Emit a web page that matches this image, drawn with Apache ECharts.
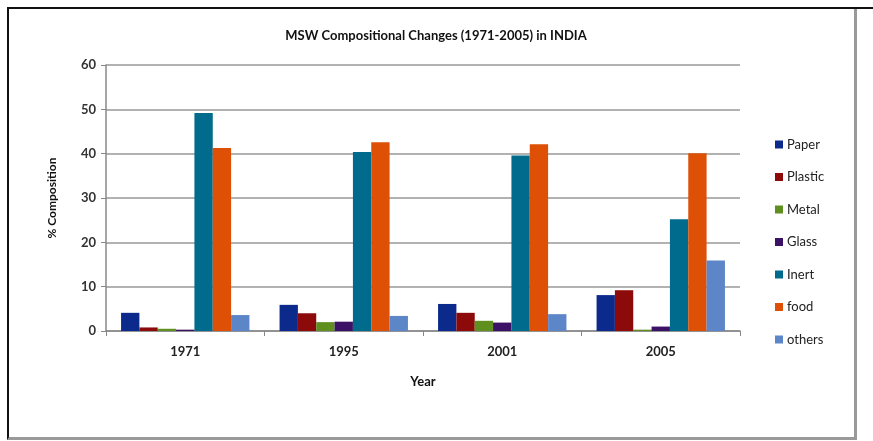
<!DOCTYPE html>
<html>
<head>
<meta charset="utf-8">
<script src="https://cdn.jsdelivr.net/npm/echarts@6/dist/echarts.min.js"></script>
<style>
  html, body { margin: 0; padding: 0; background: #fff; }
  #wrap { position: relative; width: 873px; height: 441px; }
  #chart { position: absolute; left: 0; top: 0; width: 873px; height: 441px; }
  .frame {
    position: absolute; left: 7px; top: 7px; width: 845px; height: 428px;
    border-left: 2px solid #111; border-top: 2px solid #111;
    border-right: 3px solid #999; border-bottom: 3px solid #999;
    pointer-events: none;
  }
  .topline { position: absolute; left: 852px; top: 7px; width: 21px; height: 2px; background: #111; }
</style>
</head>
<body>
<div id="wrap">
  <div id="chart"></div>
  <div class="frame"></div>
  <div class="topline"></div>
</div>
<script>
const years = ['1971', '1995', '2001', '2005']
const paper = [4.1, 5.9, 6.1, 8.1]
const plastic = [0.8, 4.0, 4.1, 9.2]
const metal = [0.5, 2.0, 2.3, 0.3]
const glass = [0.3, 2.1, 1.9, 1.0]
const inert = [49.2, 40.4, 39.6, 25.2]
const food = [41.3, 42.6, 42.1, 40.1]
const others = [3.6, 3.4, 3.8, 15.9]

const names = ['Paper', 'Plastic', 'Metal', 'Glass', 'Inert', 'food', 'others']
const values = [paper, plastic, metal, glass, inert, food, others]
const colors = ['#0b2a8c', '#8c0a0a', '#5e8f1f', '#3b1265', '#006b8c', '#dd5006', '#5d86c8']

const font = 'Lato, "Open Sans", sans-serif'
const chart = echarts.init(document.getElementById('chart'))

chart.setOption({
  animation: false,
  color: colors,
  textStyle: { fontFamily: font },
  title: {
    text: 'MSW Compositional Changes (1971-2005) in INDIA',
    left: 431,
    top: 24,
    textAlign: 'center',
    textStyle: { fontSize: 13, fontWeight: 'bold', color: '#111', fontFamily: font },
  },
  legend: {
    orient: 'vertical',
    left: 770,
    top: 133,
    itemWidth: 8,
    itemHeight: 8,
    itemGap: 19.5,
    icon: 'rect',
    data: names,
    textStyle: { fontSize: 13, color: '#222', fontFamily: font, padding: [0, 0, 0, -1] },
  },
  grid: { left: 106, right: 133, top: 65, bottom: 110 },
  xAxis: {
    type: 'category',
    data: years,
    name: 'Year',
    nameLocation: 'middle',
    nameGap: 44,
    nameTextStyle: { fontSize: 13, fontWeight: 'bold', color: '#111', fontFamily: font },
    axisLine: { lineStyle: { color: '#888', width: 1.5 } },
    axisTick: { show: true, length: 5, lineStyle: { color: '#888' } },
    axisLabel: { fontSize: 13, fontWeight: 'bold', color: '#222', margin: 14, fontFamily: font },
  },
  yAxis: {
    type: 'value',
    min: 0,
    max: 60,
    interval: 10,
    name: '% Composition',
    nameLocation: 'middle',
    nameGap: 48,
    nameTextStyle: { fontSize: 12, fontWeight: 'bold', color: '#111', fontFamily: font },
    axisLine: { show: true, lineStyle: { color: '#888', width: 1.5 } },
    axisTick: { show: true, length: 5, lineStyle: { color: '#888' } },
    axisLabel: { fontSize: 13, fontWeight: 'bold', color: '#333', margin: 10, fontFamily: font },
    splitLine: { lineStyle: { color: '#999', width: 1.5 } },
  },
  series: names.map((n, i) => ({
    name: n,
    type: 'bar',
    data: values[i],
    barGap: '0%',
    barCategoryGap: '19%',
  })),
})
</script>
</body>
</html>
